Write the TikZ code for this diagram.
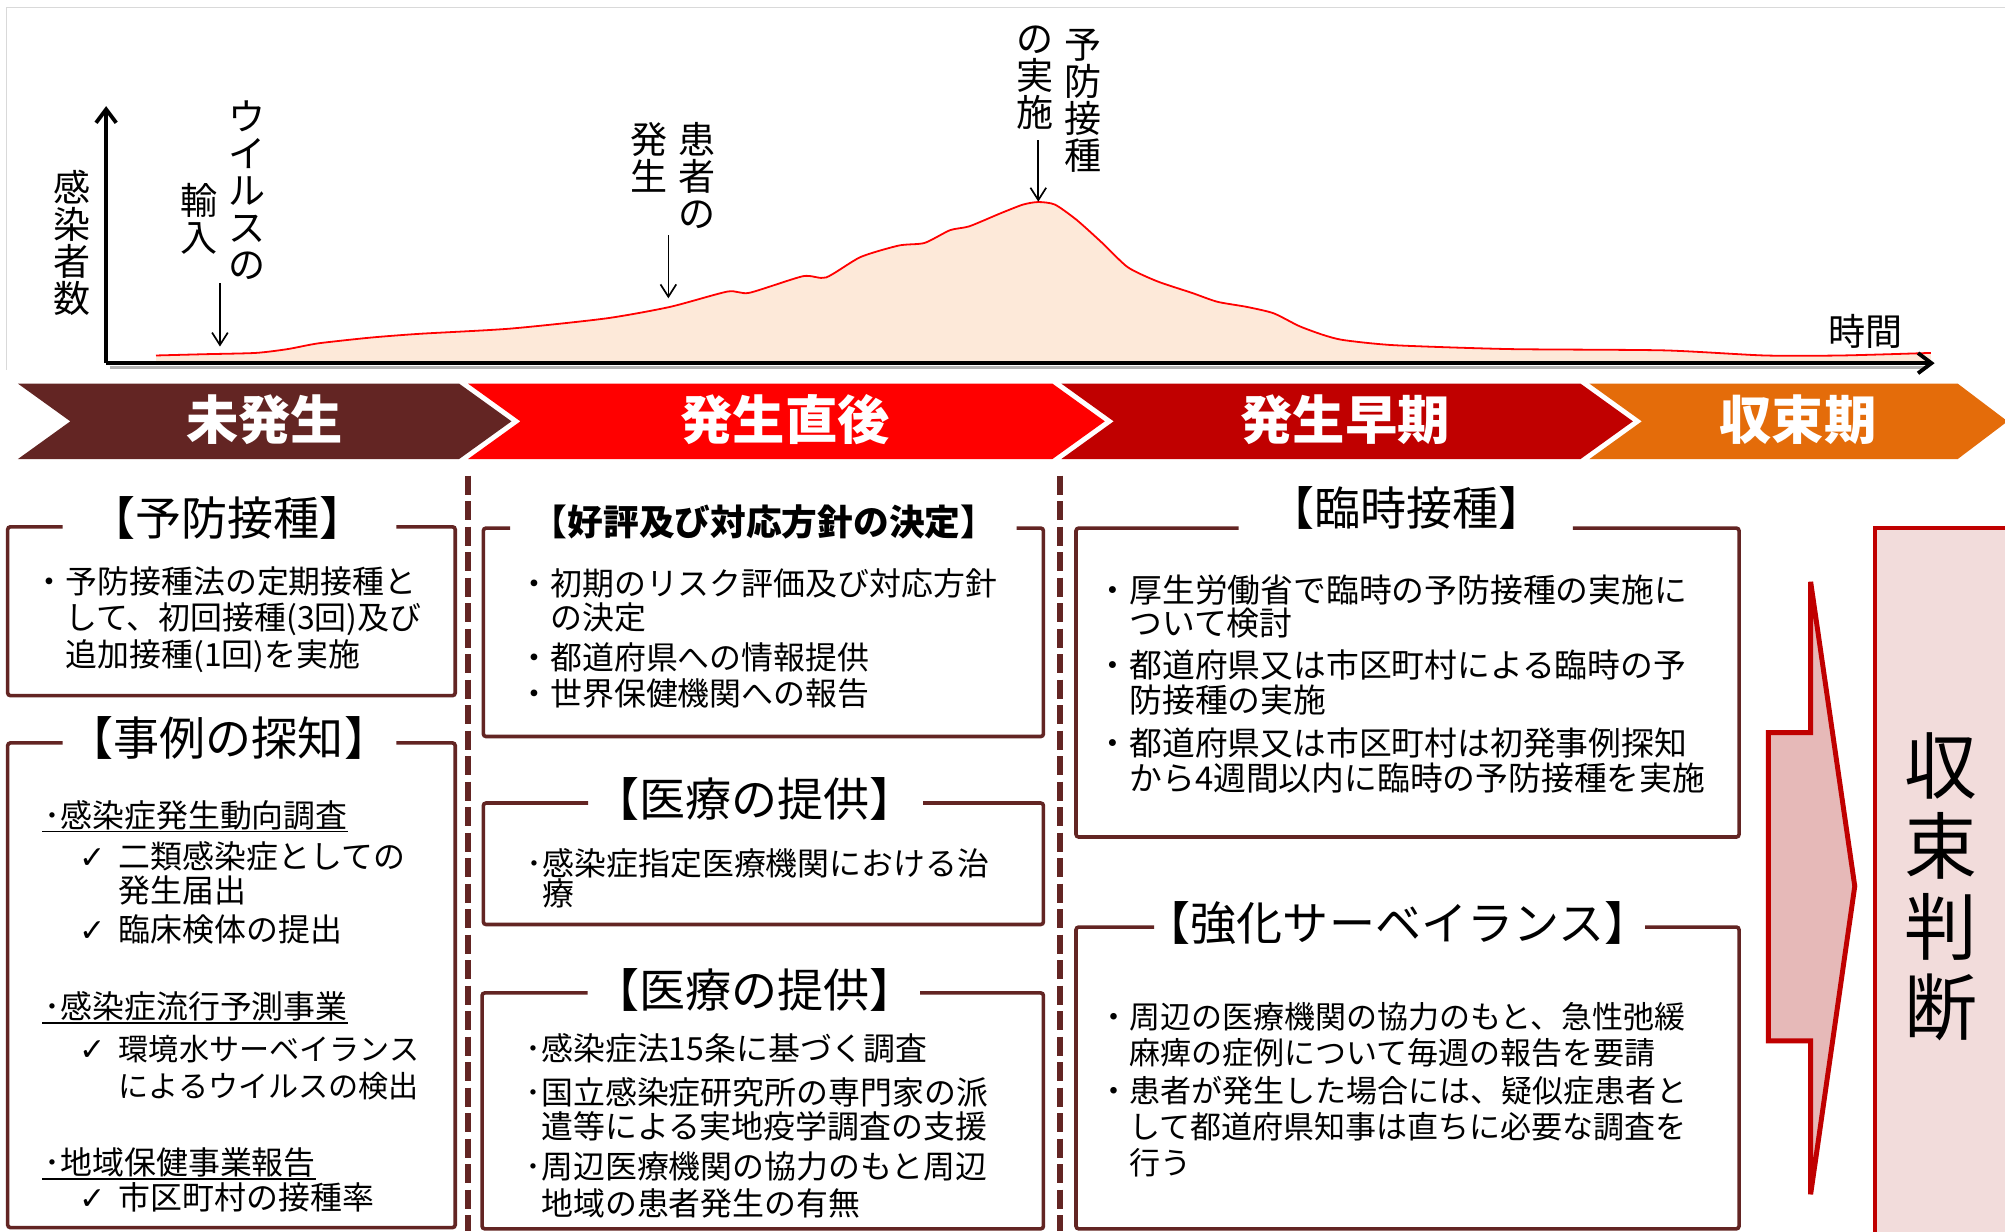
\documentclass[tikz,border=0pt]{standalone}
\usepackage{fontspec}
\setmainfont{Noto Sans CJK JP}
\newfontfamily\ckfont{DejaVu Sans}
\usetikzlibrary{arrows.meta}
\definecolor{brn}{HTML}{632523}
\definecolor{rd}{HTML}{FF0000}
\definecolor{drd}{HTML}{C00000}
\definecolor{org}{HTML}{E46C0A}
\definecolor{peach}{HTML}{FDE9D9}
\definecolor{apink}{HTML}{E6B9B8}
\definecolor{bpink}{HTML}{F2DCDB}
\newcommand\ckm{\llap{{\ckfont\fontsize{14pt}{15pt}\selectfont ✓}\kern6pt}}
\begin{document}
\begin{tikzpicture}[x=0.02cm,y=-0.02cm,
  ln/.style={anchor=west, inner sep=0pt, font=\fontsize{14.2pt}{16pt}\selectfont, text height=12.5pt, text depth=1.7pt},
  lnr/.style={ln, font=\fontsize{14.6pt}{16pt}\selectfont},
  lng/.style={ln, font=\fontsize{13.8pt}{16pt}\selectfont},
  lnk/.style={ln, font=\fontsize{13.4pt}{16pt}\selectfont},
  ttl/.style={inner sep=0pt, font=\fontsize{20.5pt}{22pt}\selectfont, text height=18pt, text depth=2.5pt},
  ttlb/.style={inner sep=0pt, font=\fontsize{15.9pt}{17pt}\selectfont\bfseries, text height=14pt, text depth=1.9pt},
  chev/.style={text=white, inner sep=0pt, font=\fontsize{23.3pt}{24pt}\selectfont\bfseries, text height=20.5pt, text depth=2.8pt},
  vlab/.style={align=center, inner sep=0pt, font=\fontsize{16.5pt}{16.5pt}\selectfont},
  frame/.style={draw=brn, line width=1.6pt, rounded corners=1.2pt},
  dsh/.style={draw=brn, line width=2.3pt, dash pattern=on 8.5pt off 2.85pt},
  uline/.style={line width=0.8pt},
  arr/.style={-{Straight Barb[length=5.5pt,width=7pt]}, line width=0.75pt},
  axis/.style={-{Straight Barb[length=6pt,width=9pt]}, line width=1.7pt}
]
\useasboundingbox (0,0) rectangle (1568,963);
\fill[white] (0,0) rectangle (1568,963);

% chart frame
\draw[gray!30, line width=0.6pt] (5,289) -- (5,5.7) -- (1568,5.7);

% curve
\fill[peach] plot[smooth,tension=0.4] coordinates {(122,278) (160,277) (200,276) (225,273) (249,268.5) (290,264) (329,261) (399,257) (474,249) (524,240) (569,228) (586,229) (628,216) (646,217) (673,201) (703,192) (723,190) (743,180) (758,177) (782,167) (800,160) (812,158) (825,160) (842,172) (862,190) (882,209) (905,220) (932,229) (952,236) (975,240) (996,245) (1016,255) (1035,262) (1051,266) (1091,270) (1181,273) (1301,274) (1380,278) (1440,278) (1510,276)} -- (1510,283) -- (122,283) -- cycle;
\draw[red, line width=0.8pt] plot[smooth,tension=0.4] coordinates {(122,278) (160,277) (200,276) (225,273) (249,268.5) (290,264) (329,261) (399,257) (474,249) (524,240) (569,228) (586,229) (628,216) (646,217) (673,201) (703,192) (723,190) (743,180) (758,177) (782,167) (800,160) (812,158) (825,160) (842,172) (862,190) (882,209) (905,220) (932,229) (952,236) (975,240) (996,245) (1016,255) (1035,262) (1051,266) (1091,270) (1181,273) (1301,274) (1380,278) (1440,278) (1510,276)};

% axes
\coordinate (org0) at (83,284);
\coordinate (ytip) at (83,83);
\coordinate (xtip) at (1513,284);
\draw[black!30, line width=1.2pt] (86,287.5) -- (1508,287.5);
\draw[axis] (org0) -- (ytip);
\draw[axis] (org0) -- (xtip);

% chart labels
\node[vlab] (lv) at (56,190) {感\\染\\者\\数};
\node[vlab] (lw) at (193,149) {ウ\\イ\\ル\\ス\\の};
\node[vlab] (lx) at (156,171) {輸\\入};
\node[vlab] (ly) at (545,137.5) {患\\者\\の};
\node[vlab] (lz) at (507.5,123) {発\\生};
\node[vlab] (lp) at (847,79) {予\\防\\接\\種};
\node[vlab] (lq) at (809.5,61) {の\\実\\施};
\node[vlab] (lt) at (1459,259) {時間};
\coordinate (a1s) at (172,221.6); \coordinate (a1e) at (172,271);
\coordinate (a2s) at (522.7,183.8); \coordinate (a2e) at (522.7,233.3);
\coordinate (a3s) at (812,109.5); \coordinate (a3e) at (812,157.7);
\draw[arr] (a1s) -- (a1e);
\draw[arr] (a2s) -- (a2e);
\draw[arr] (a3s) -- (a3e);

% chevrons
\fill[brn] (14,300) -- (359,300) -- (400,329.5) -- (359,359) -- (14,359) -- (55,329.5) -- cycle;
\fill[rd] (366,300) -- (823,300) -- (864,329.5) -- (823,359) -- (366,359) -- (407,329.5) -- cycle;
\fill[drd] (830,300) -- (1236,300) -- (1277,329.5) -- (1236,359) -- (830,359) -- (871,329.5) -- cycle;
\fill[org] (1243,300) -- (1531,300) -- (1570,329.5) -- (1531,359) -- (1243,359) -- (1284,329.5) -- cycle;
\node[chev] (p1) at (207,328) {未発生};
\node[chev] (p2) at (614,328) {発生直後};
\node[chev] (p3) at (1052,328) {発生早期};
\node[chev] (p4) at (1406,328) {収束期};

% dashed separators
\draw[dsh] (366,372) -- (366,963);
\draw[dsh] (829,372) -- (829,963);

% Box A
\draw[frame] (49,412) -- (6,412) -- (6,544) -- (356,544) -- (356,412) -- (310,412);
\node[ttl] (tA) at (178,405) {【予防接種】};
\node[ln] (a1) at (51,455) {\llap{・}予防接種法の定期接種と};
\node[ln] (a2) at (51,483) {して、初回接種(3回)及び};
\node[ln] (a3) at (51,512) {追加接種(1回)を実施};

% Box B
\draw[frame] (49,581) -- (6,581) -- (6,960) -- (356,960) -- (356,581) -- (310,581);
\node[ttl] (tB) at (179,577) {【事例の探知】};
\node[ln] (b1) at (47,637.5) {\llap{･}感染症発生動向調査};
\draw[uline] ([xshift=-8pt]b1.south west) -- (b1.south east);
\node[ln] (b2) at (92.6,670) {\ckm 二類感染症としての};
\node[ln] (b3) at (92.6,696.5) {発生届出};
\node[ln] (b4) at (92.6,726.6) {\ckm 臨床検体の提出};
\node[ln] (b5) at (47,787) {\llap{･}感染症流行予測事業};
\draw[uline] ([xshift=-8pt]b5.south west) -- (b5.south east);
\node[lnk] (b6) at (92.6,819.8) {\ckm 環境水サーベイランス};
\node[lnk] (b7) at (92.6,848.5) {によるウイルスの検出};
\node[ln] (b8) at (47,909) {\llap{･}地域保健事業報告};
\draw[uline] ([xshift=-8pt]b8.south west) -- (b8.south east);
\node[ln] (b9) at (92.6,936) {\ckm 市区町村の接種率};

% Box C
\draw[frame] (399,413) -- (378,413) -- (378,576) -- (816,576) -- (816,413) -- (795,413);
\node[ttlb] (tC) at (597.5,408) {【好評及び対応方針の決定】};
\node[ln] (c1) at (430,456) {\llap{・}初期のリスク評価及び対応方針};
\node[ln] (c2) at (430,482.5) {の決定};
\node[ln] (c3) at (430,514) {\llap{・}都道府県への情報提供};
\node[ln] (c4) at (430,542) {\llap{・}世界保健機関への報告};

% Box D
\draw[frame] (460,628) -- (378,628) -- (378,723) -- (816,723) -- (816,628) -- (722,628);
\node[ttl] (tD) at (590,625) {【医療の提供】};
\node[ln] (d1) at (424,675) {\llap{･}感染症指定医療機関における治};
\node[ln] (d2) at (424,699) {療};

% Box E
\draw[frame] (459.5,776.5) -- (377,776.5) -- (377,961) -- (816,961) -- (816,776.5) -- (719.5,776.5);
\node[ttl] (tE) at (590,774) {【医療の提供】};
\node[ln] (e1) at (423,820) {\llap{･}感染症法15条に基づく調査};
\node[ln] (e2) at (423,854) {\llap{･}国立感染症研究所の専門家の派};
\node[ln] (e3) at (423,881) {遣等による実地疫学調査の支援};
\node[ln] (e4) at (423,912.5) {\llap{･}周辺医療機関の協力のもと周辺};
\node[ln] (e5) at (423,941) {地域の患者発生の有無};

% Box F
\draw[frame] (968.6,413) -- (841.5,413) -- (841.5,654.6) -- (1360,654.6) -- (1360,413) -- (1230,413);
\node[ttl] (tF) at (1100,397.5) {【臨時接種】};
\node[lnr] (f1) at (883,461.5) {\llap{・}厚生労働省で臨時の予防接種の実施に};
\node[lnr] (f2) at (883,487.5) {ついて検討};
\node[lnr] (f3) at (883,520) {\llap{・}都道府県又は市区町村による臨時の予};
\node[lnr] (f4) at (883,547.5) {防接種の実施};
\node[lnr] (f5) at (883,581) {\llap{・}都道府県又は市区町村は初発事例探知};
\node[lnr] (f6) at (883,608.5) {から4週間以内に臨時の予防接種を実施};

% Box G
\draw[frame] (902.6,725) -- (841.5,725) -- (841.5,961) -- (1360,961) -- (1360,725) -- (1286.6,725);
\node[ttl] (tG) at (1093,722) {【強化サーベイランス】};
\node[lng] (g1) at (883,795) {\llap{・}周辺の医療機関の協力のもと、急性弛緩};
\node[lng] (g2) at (883,822.7) {麻痺の症例について毎週の報告を要請};
\node[lng] (g3) at (883,852.5) {\llap{・}患者が発生した場合には、疑似症患者と};
\node[lng] (g4) at (883,881) {して都道府県知事は直ちに必要な調査を};
\node[lng] (g5) at (883,908.8) {行う};

% big arrow and final box
\draw[draw=drd, fill=apink, line width=2.2pt, line join=miter] (1416,455) -- (1450.5,693) -- (1416,934) -- (1416,814) -- (1383,814) -- (1383,573) -- (1416,573) -- cycle;
\draw[draw=drd, fill=bpink, line width=1.8pt] (1466,413) rectangle (1590,990);
\node[font=\fontsize{32.4pt}{35.8pt}\selectfont, align=center, inner sep=0pt] (sj) at (1518,693.6) {収\\束\\判\\断};
\end{tikzpicture}
\end{document}
